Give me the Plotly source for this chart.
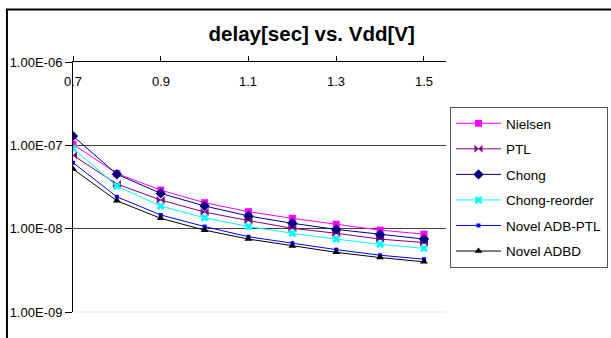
import plotly.graph_objects as go

vdd = [0.7, 0.8, 0.9, 1.0, 1.1, 1.2, 1.3, 1.4, 1.5]

nielsen = [1.03e-7, 4.6e-8, 2.9e-8, 2.05e-8, 1.6e-8, 1.33e-8, 1.13e-8, 9.6e-9, 8.6e-9]
ptl = [7.6e-8, 3.43e-8, 2.21e-8, 1.58e-8, 1.25e-8, 1.01e-8, 8.8e-9, 7.5e-9, 6.8e-9]
chong = [1.29e-7, 4.5e-8, 2.65e-8, 1.87e-8, 1.42e-8, 1.16e-8, 9.8e-9, 8.5e-9, 7.5e-9]
chong_reorder = [9.2e-8, 3.24e-8, 1.87e-8, 1.35e-8, 1.06e-8, 8.8e-9, 7.5e-9, 6.5e-9, 5.8e-9]
novel_adb_ptl = [6.2e-8, 2.41e-8, 1.46e-8, 1.06e-8, 8.0e-9, 6.7e-9, 5.6e-9, 4.8e-9, 4.3e-9]
novel_adbd = [5.2e-8, 2.16e-8, 1.33e-8, 9.6e-9, 7.5e-9, 6.2e-9, 5.2e-9, 4.5e-9, 4.0e-9]

y_tickvals = [1e-9, 1e-8, 1e-7, 1e-6]
y_ticktext = ["1.00E-09", "1.00E-08", "1.00E-07", "1.00E-06"]
x_tickvals = [0.7, 0.9, 1.1, 1.3, 1.5]
x_ticktext = ["0.7", "0.9", "1.1", "1.3", "1.5"]

series = [
    ("Nielsen", nielsen, "#FF00FF", "square", 7),
    ("PTL", ptl, "#800080", "bowtie", 8),
    ("Chong", chong, "#000080", "diamond", 8),
    ("Chong-reorder", chong_reorder, "#00FFFF", "x", 7),
    ("Novel ADB-PTL", novel_adb_ptl, "#0000FF", "square", 4),
    ("Novel ADBD", novel_adbd, "#000000", "triangle-up", 7),
]

FONT = "Arial, Liberation Sans, sans-serif"

fig = go.Figure()
for i, (name, vals, color, sym, size) in enumerate(series):
    fig.add_trace(go.Scatter(
        x=vdd, y=vals, name=name, mode="lines+markers",
        line=dict(color=color, width=1),
        marker=dict(symbol=sym, size=size, color=color,
                    line=dict(width=0, color=color)),
        legendgroup=f"g{i}",
    ))

# plot area in pixels
L, R, T, B = 73.3, 446.0, 61.7, 312.3
W, H = 611, 338
pw, ph = R - L, B - T

def px_x(p):
    return (p - L) / pw

def px_y(p):
    return (B - p) / ph

fig.update_layout(
    width=W, height=H,
    margin=dict(l=L, r=W - R, t=T, b=H - B, pad=0, autoexpand=False),
    paper_bgcolor="white", plot_bgcolor="white",
    font=dict(family=FONT, size=13, color="black"),
    title=dict(text="<b>delay[sec] vs. Vdd[V]</b>",
               font=dict(family=FONT, size=20.5, color="black"),
               x=311.7 / W, xref="container", xanchor="center",
               y=1 - 33.5 / H, yref="container", yanchor="middle"),
    showlegend=True,
    legend=dict(x=450 / W, y=1 - 107 / H, xref="container", yref="container",
                xanchor="left", yanchor="top",
                bordercolor="#555555", borderwidth=1, bgcolor="white",
                font=dict(family=FONT, size=13.5, color="black"),
                itemwidth=45, tracegroupgap=5),
    xaxis=dict(side="top", range=[0.7, 1.5 + (R - 424.0) / 43.84 * 0.1],
               tickvals=x_tickvals, ticktext=x_ticktext,
               ticks="outside", ticklen=5, tickcolor="black", tickwidth=1,
               showticklabels=False, automargin=False,
               showline=True, linecolor="black", linewidth=1,
               showgrid=False, zeroline=False),
    yaxis=dict(type="log", range=[-9, -6],
               tickvals=y_tickvals, ticktext=y_ticktext,
               ticks="outside", ticklen=7, tickcolor="black", tickwidth=1,
               showline=True, linecolor="black", linewidth=1,
               showgrid=True, gridcolor="#404040", gridwidth=1,
               zeroline=False, automargin=False,
               tickfont=dict(family=FONT, size=13, color="black")),
)

# faint bottom boundary line at 1e-9
fig.add_shape(type="line", xref="paper", yref="paper", x0=0, x1=1, y0=0, y1=0,
              line=dict(color="#e6e6e6", width=1), layer="below")

# x tick labels drawn below the top axis line
for v, t in zip(x_tickvals, x_ticktext):
    fig.add_annotation(x=v, y=px_y(81), xref="x", yref="paper", text=t,
                       showarrow=False, xanchor="center", yanchor="middle",
                       font=dict(family=FONT, size=13, color="black"))

# chart outer border
fig.add_shape(type="rect", xref="paper", yref="paper",
              x0=px_x(7.3), x1=px_x(620), y0=px_y(345), y1=px_y(9),
              line=dict(color="black", width=2), fillcolor="rgba(0,0,0,0)",
              layer="below")

fig.write_html("out.html",
               config={"displayModeBar": False},
               post_script="document.body.style.margin='0';document.body.style.overflow='hidden';")
